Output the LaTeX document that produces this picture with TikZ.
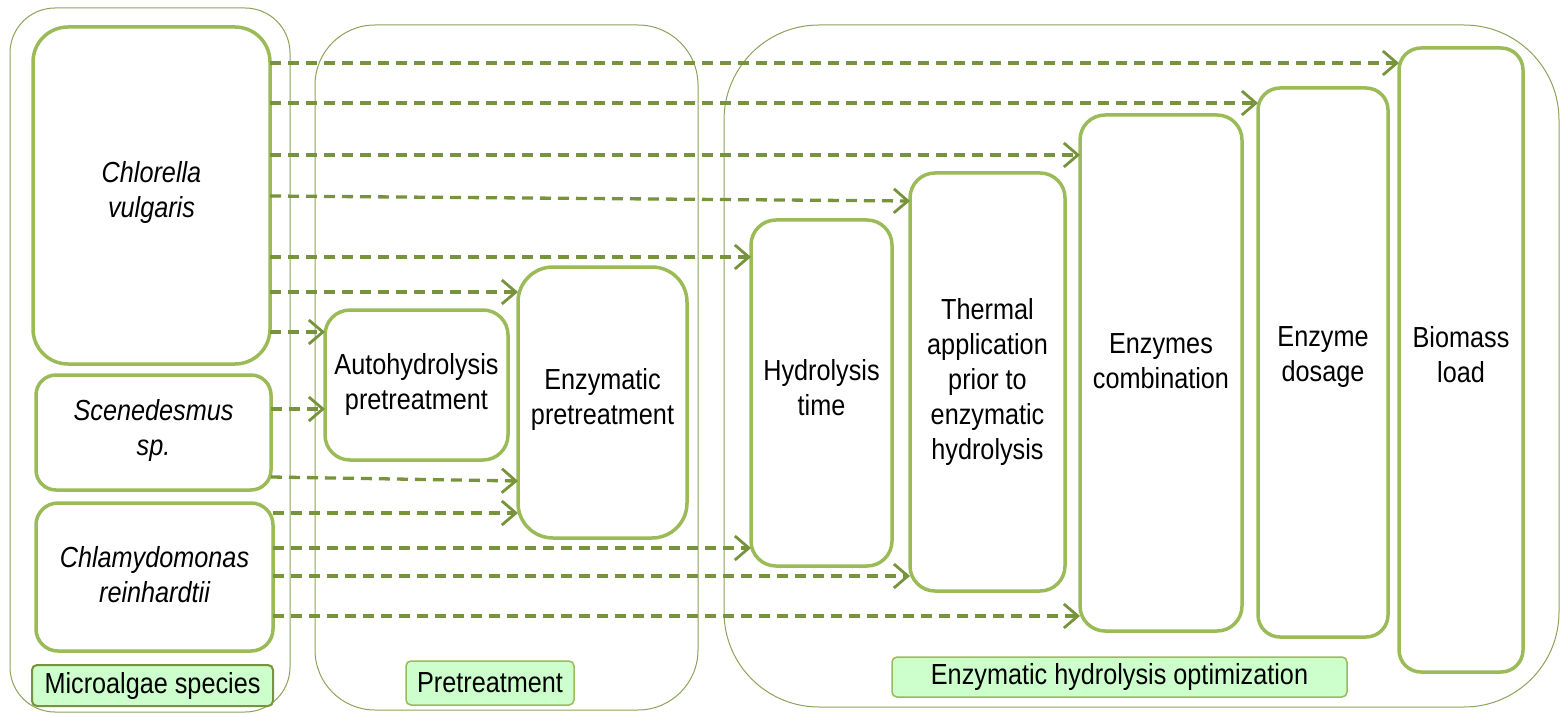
\documentclass[tikz,border=0pt]{standalone}
\usepackage{fontspec}
\setmainfont{Liberation Sans}[FakeStretch=0.87]
\usetikzlibrary{arrows.meta,calc}
\definecolor{boxg}{HTML}{9BBB59}
\definecolor{arrg}{HTML}{77933C}
\definecolor{lblfill}{HTML}{CCFFCC}
\begin{document}
\begin{tikzpicture}[x=1pt,y=-1pt,
  group/.style={draw=arrg!85, line width=1pt, inner sep=0pt, outer sep=0pt, anchor=north west},
  box/.style={draw=boxg, line width=3.5pt, inner sep=0pt, outer sep=0pt, anchor=north west, fill=white},
  lbl/.style={draw=boxg, fill=lblfill, line width=1.5pt, rounded corners=5pt, inner sep=0pt, outer sep=0pt, anchor=north west},
  txt/.style={align=center, font=\fontsize{29}{35}\selectfont, inner sep=0pt},
  arr/.style={draw=arrg, line width=3.3pt, dash pattern=on 11pt off 7pt, -{Straight Barb[length=14pt,width=24pt,line width=2.8pt]}}
]
\useasboundingbox (0,0) rectangle (1561,714);
% groups
\node[group, rounded corners=45pt, minimum width=280pt, minimum height=704pt] (g1) at (10,8) {};
\node[group, rounded corners=60pt, minimum width=383pt, minimum height=685pt] (g2) at (315,25) {};
\node[group, rounded corners=95pt, minimum width=835pt, minimum height=682pt] (g3) at (724,25) {};
% species boxes
\node[box, rounded corners=35pt, minimum width=237pt, minimum height=337pt] (cv) at (33,27) {};
\node[box, rounded corners=20pt, minimum width=235pt, minimum height=115pt] (sc) at (36,375) {};
\node[box, rounded corners=22pt, minimum width=237pt, minimum height=148pt] (ch) at (36,503) {};
% pretreatment boxes
\node[box, rounded corners=25pt, minimum width=183pt, minimum height=150pt] (au) at (325,310) {};
\node[box, rounded corners=35pt, minimum width=169pt, minimum height=271pt] (ep) at (518,267) {};
% hydrolysis boxes
\node[box, rounded corners=25pt, minimum width=141pt, minimum height=346pt] (ht) at (751,220) {};
\node[box, rounded corners=25pt, minimum width=155pt, minimum height=418pt] (th) at (910,173) {};
\node[box, rounded corners=25pt, minimum width=162pt, minimum height=516pt] (co) at (1080,115) {};
\node[box, rounded corners=22pt, minimum width=130pt, minimum height=549pt] (do) at (1258,88) {};
\node[box, rounded corners=22pt, minimum width=124pt, minimum height=624pt] (bi) at (1399,48) {};
% labels
\node[lbl, draw=arrg, line width=2pt, minimum width=241pt, minimum height=41pt] (l1) at (32,665) {};
\node[lbl, minimum width=168pt, minimum height=44pt] (l2) at (406,661) {};
\node[lbl, minimum width=455pt, minimum height=40pt] (l3) at (892,657) {};
% texts
\node[txt] (tcv) at ($(cv.center)+(0,-3)$) {\itshape Chlorella\\\itshape vulgaris};
\node[txt] (tsc) at ($(sc.center)+(0,-2)$) {\itshape Scenedesmus\\\itshape sp.};
\node[txt] (tch) at ($(ch.center)+(0,-2)$) {\itshape Chlamydomonas\\\itshape reinhardtii};
\node[txt] (tau) at (au.center) {Autohydrolysis\\pretreatment};
\node[txt] (tep) at ($(ep.center)+(0,-3)$) {Enzymatic\\pretreatment};
\node[txt] (tht) at ($(ht.center)+(0,-5)$) {Hydrolysis\\time};
\node[txt] (tth) at (th.center) {Thermal\\application\\prior to\\enzymatic\\hydrolysis};
\node[txt] (tco) at ($(co.center)+(0,-12)$) {Enzymes\\combination};
\node[txt] (tdo) at ($(do.center)+(0,-5)$) {Enzyme\\dosage};
\node[txt] (tbi) at ($(bi.center)+(0,-5)$) {Biomass\\load};
\node[txt] (tl1) at (l1.center) {Microalgae species};
\node[txt] (tl2) at (l2.center) {Pretreatment};
\node[txt] (tl3) at (l3.center) {Enzymatic hydrolysis optimization};
% arrows
\draw[arr] ($(cv.north east)+(0,36)$) -- ($(bi.north west)+(0,15)$);
\draw[arr] ($(cv.north east)+(0,76)$) -- ($(do.north west)+(0,15)$);
\draw[arr] ($(cv.north east)+(0,128)$) -- ($(co.north west)+(0,40)$);
\draw[arr] ($(cv.north east)+(0,169)$) -- ($(th.north west)+(0,28)$);
\draw[arr] ($(cv.north east)+(0,230)$) -- ($(ht.north west)+(0,37)$);
\draw[arr] ($(cv.north east)+(0,265)$) -- ($(ep.north west)+(0,25)$);
\draw[arr] ($(cv.north east)+(0,305)$) -- ($(au.north west)+(0,22)$);
\draw[arr] ($(sc.north east)+(0,34)$) -- ($(au.north west)+(0,99)$);
\draw[arr] ($(sc.north east)+(0,102)$) -- ($(ep.north west)+(0,214)$);
\draw[arr] ($(ch.north east)+(0,10)$) -- ($(ep.north west)+(0,246)$);
\draw[arr] ($(ch.north east)+(0,45)$) -- ($(ht.north west)+(0,328)$);
\draw[arr] ($(ch.north east)+(0,73)$) -- ($(th.north west)+(0,403)$);
\draw[arr] ($(ch.north east)+(0,113)$) -- ($(co.north west)+(0,501)$);
\end{tikzpicture}
\end{document}
